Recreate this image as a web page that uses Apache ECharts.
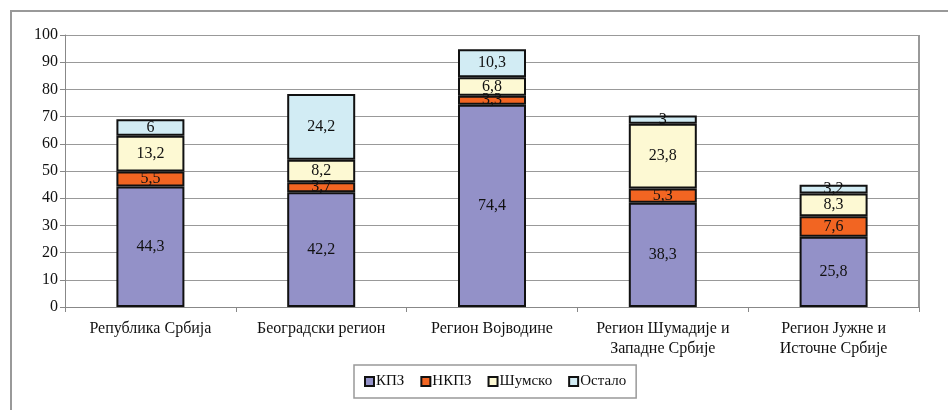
<!DOCTYPE html>
<html lang="sr">
<head>
  <meta charset="UTF-8">
  <title>Структура површина по регионима</title>
  <script src="https://cdn.jsdelivr.net/npm/echarts@6/dist/echarts.min.js"></script>
  <style>
    html, body { margin: 0; padding: 0; background: #fff; }
    #chart { width: 948px; height: 410px; }
  </style>
</head>
<body>
  <div id="chart"></div>
<script>
  const categories = ['Република Србија', 'Београдски регион', 'Регион Војводине',
    'Регион Шумадије и\nЗападне Србије', 'Регион Јужне и\nИсточне Србије'];
  const kpz = [44.3, 42.2, 74.4, 38.3, 25.8];
  const nkpz = [5.5, 3.7, 3.3, 5.3, 7.6];
  const sumsko = [13.2, 8.2, 6.8, 23.8, 8.3];
  const ostalo = [6, 24.2, 10.3, 3, 3.2];

  const font = '"Liberation Serif", "Times New Roman", serif';
  const chart = echarts.init(document.getElementById('chart'));

  function bar(name, data, color) {
    return {
      name: name,
      type: 'bar',
      stack: 'total',
      barWidth: 68,
      data: data,
      itemStyle: { color: color, borderColor: '#111', borderWidth: 2 },
      label: {
        show: true,
        position: 'inside',
        color: '#111',
        fontFamily: font,
        fontSize: 16,
        formatter: p => String(p.value).replace('.', ',')
      }
    };
  }

  chart.setOption({
    animation: false,
    textStyle: { fontFamily: font },
    grid: { left: 65, right: 29, top: 35, bottom: 103 },
    graphic: [{
      type: 'rect',
      shape: { x: 11, y: 11, width: 960, height: 420 },
      style: { fill: 'none', stroke: '#999', lineWidth: 2 },
      silent: true
    }, {
      type: 'line',
      shape: { x1: 919, y1: 35, x2: 919, y2: 307 },
      style: { stroke: '#999', lineWidth: 2 },
      silent: true
    }],
    legend: {
      bottom: 12,
      left: 354,
      padding: [9, 10, 9, 10],
      borderColor: '#999',
      borderWidth: 1.5,
      itemGap: 16,
      itemWidth: 9,
      itemHeight: 9,
      icon: 'rect',
      textStyle: { fontFamily: font, fontSize: 15, color: '#111', padding: [0, 0, 0, -3] },
      data: ['КПЗ', 'НКПЗ', 'Шумско', 'Остало']
    },
    xAxis: {
      type: 'category',
      data: categories,
      axisLine: { lineStyle: { color: '#888', width: 1 } },
      axisTick: { show: true, length: 5, lineStyle: { color: '#888' } },
      axisLabel: { interval: 0, color: '#111', fontFamily: font, fontSize: 16, margin: 12, lineHeight: 20 }
    },
    yAxis: {
      type: 'value',
      min: 0,
      max: 100,
      interval: 10,
      axisLine: { show: true, lineStyle: { color: '#888' } },
      axisTick: { show: true, length: 5, lineStyle: { color: '#888' } },
      axisLabel: { color: '#111', fontFamily: font, fontSize: 16, margin: 7 },
      splitLine: { lineStyle: { color: '#999', width: 1 } }
    },
    series: [
      bar('КПЗ', kpz, '#9391c8'),
      bar('НКПЗ', nkpz, '#f26522'),
      bar('Шумско', sumsko, '#fdf9d3'),
      bar('Остало', ostalo, '#d2ecf4')
    ]
  });
</script>
</body>
</html>
